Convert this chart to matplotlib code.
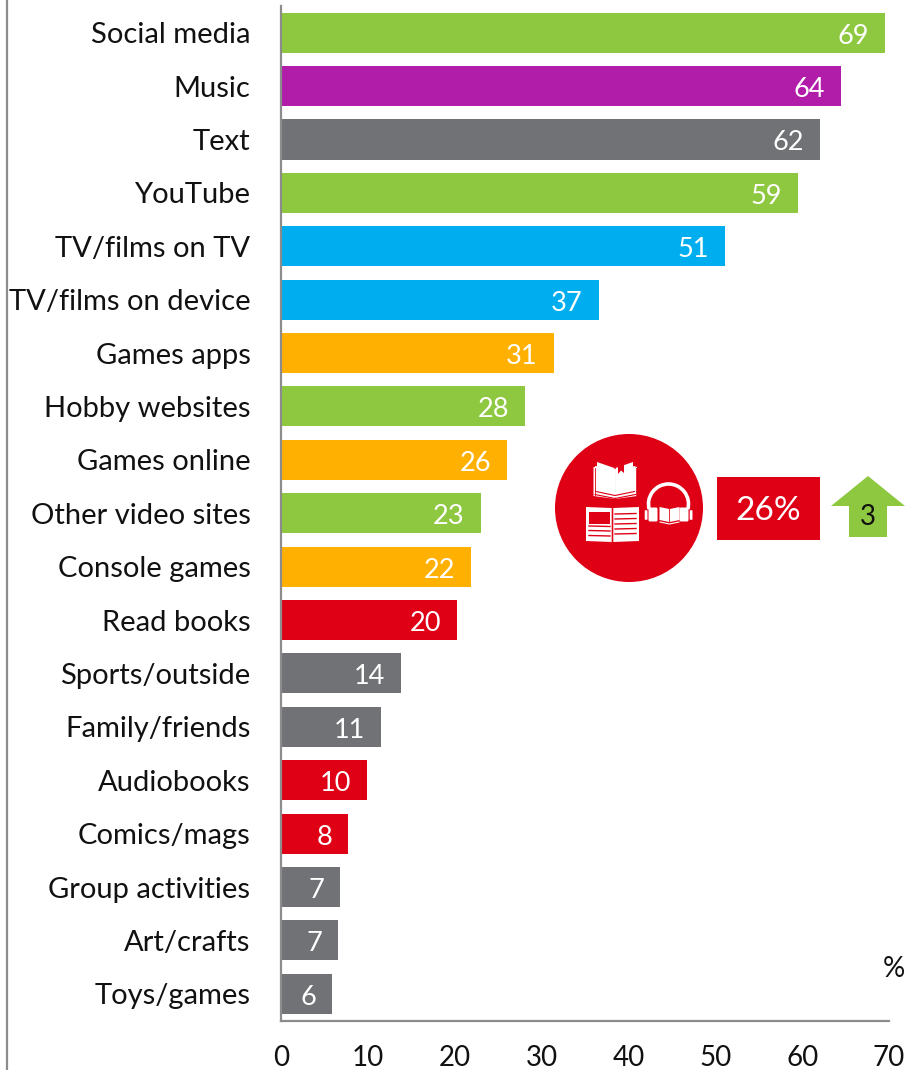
import matplotlib
matplotlib.use('Agg')
import matplotlib.pyplot as plt
from matplotlib.patches import Circle, Rectangle, Polygon, Arc, FancyBboxPatch

plt.rcParams['font.family'] = ['Lato', 'DejaVu Sans']

GREEN = '#8EC840'
PURPLE = '#B11CA8'
GREY = '#717275'
BLUE = '#00AEEF'
ORANGE = '#FFB000'
RED = '#DF0015'

categories = ['Social media', 'Music', 'Text', 'YouTube', 'TV/films on TV',
              'TV/films on device', 'Games apps', 'Hobby websites', 'Games online',
              'Other video sites', 'Console games', 'Read books', 'Sports/outside',
              'Family/friends', 'Audiobooks', 'Comics/mags', 'Group activities',
              'Art/crafts', 'Toys/games']
# bar lengths as drawn, the printed labels are rounded
values = [69.5, 64.5, 62.0, 59.5, 51.1, 36.6, 31.4, 28.1, 26.0, 23.0, 21.9, 20.3,
          13.8, 11.5, 9.9, 7.7, 6.8, 6.6, 5.9]
labels = [69, 64, 62, 59, 51, 37, 31, 28, 26, 23, 22, 20, 14, 11, 10, 8, 7, 7, 6]
colours = [GREEN, PURPLE, GREY, GREEN, BLUE, BLUE, ORANGE, GREEN, ORANGE, GREEN,
           ORANGE, RED, GREY, GREY, RED, RED, GREY, GREY, GREY]
x_ticks = [0, 10, 20, 30, 40, 50, 60, 70]

W, H = 909, 1070
fig = plt.figure(figsize=(W / 100, H / 100), dpi=100)
ax = fig.add_axes([281 / W, 1 - 1020.5 / H, 608 / W, 1014.5 / H])

y = list(range(len(categories)))
ax.barh(y, values, height=0.75, color=colours)
ax.set_xlim(0, 70)
ax.set_ylim(len(categories) - 0.5, -0.5)
ax.set_yticks(y)
ax.set_yticklabels(categories, fontsize=21, color='#111111')
ax.set_xticks(x_ticks)
ax.tick_params(axis='both', length=0)
ax.tick_params(axis='y', pad=22)
ax.tick_params(axis='x', pad=18, labelsize=20, labelcolor='#111111')
for s in ['top', 'right']:
    ax.spines[s].set_visible(False)
for s in ['left', 'bottom']:
    ax.spines[s].set_color('#8C8C8C')
    ax.spines[s].set_linewidth(1.6)

for i, v in enumerate(values):
    ax.annotate(str(labels[i]), (v, i), xytext=(-11.5, -2.5), textcoords='offset points',
                ha='right', va='center', color='white', fontsize=19.5)

# overlay in pixel coordinates for the frame line and the call-out
ov = fig.add_axes([0, 0, 1, 1], facecolor='none')
ov.set_xlim(0, W)
ov.set_ylim(H, 0)
ov.axis('off')

ov.plot([6.5, 6.5], [0, H], color='#8C8C8C', lw=1.6)
ov.text(894, 969, '%', ha='center', va='center', fontsize=20, color='#111111')

ov.add_patch(Circle((629, 508), 74, fc=RED, ec='none'))


def page_pair(x0, x1, top, dip, low, gap=1.0):
    # two slanted pages meeting at the spine
    mid = (x0 + x1) / 2
    ov.add_patch(Polygon([(x0, top), (mid - gap, top + dip), (mid - gap, low + dip), (x0, low)],
                         fc='white', ec='none'))
    ov.add_patch(Polygon([(x1, top), (mid + gap, top + dip), (mid + gap, low + dip), (x1, low)],
                         fc='white', ec='none'))


# top book: nested page edges, then the white pages and a bookmark notch
page_pair(593.5, 637, 467, 3, 496, gap=0)
page_pair(595, 635.5, 466, 3, 494, gap=0)
ov.plot([595, 615, 635.5], [494.5, 498.5, 494.5], color=RED, lw=0.8)
ov.plot([596, 615, 634.5], [491.5, 495.5, 491.5], color=RED, lw=0.8)
ov.plot([594.5, 594.5], [468, 495], color=RED, lw=0.6)
ov.plot([635.5, 635.5], [468, 495], color=RED, lw=0.6)
page_pair(597, 633, 462, 6, 488, gap=0.7)
ov.add_patch(Polygon([(618, 465), (624, 463.5), (624, 473), (621, 470.5), (618, 474)], fc=RED, ec='none'))

# lower book with picture block and text lines
page_pair(586, 639, 507, 1, 541, gap=0.8)
ov.add_patch(Rectangle((589, 512), 21, 11.5, fc=RED, ec='none'))
for ly in [526, 530.5, 535.5]:
    ov.plot([589, 610], [ly, ly + 0.5], color=RED, lw=1.0)
for ly in [513.5, 518.5, 523.5, 528.5, 533.5]:
    ov.plot([615, 636], [ly + 0.5, ly], color=RED, lw=1.0)

# headphones with a small book
ov.add_patch(Arc((668.5, 504), 40, 40, theta1=165, theta2=375, color='white', lw=2.6))
ov.add_patch(FancyBboxPatch((650, 509), 6, 11, boxstyle='round,pad=1.5', fc='white', ec='none'))
ov.add_patch(FancyBboxPatch((681, 509), 6, 11, boxstyle='round,pad=1.5', fc='white', ec='none'))
ov.add_patch(FancyBboxPatch((645.5, 511), 1.2, 8, boxstyle='round,pad=0.8', fc='white', ec='none'))
ov.add_patch(FancyBboxPatch((690.5, 511), 1.2, 8, boxstyle='round,pad=0.8', fc='white', ec='none'))
page_pair(659.5, 679.5, 507, 2, 520, gap=0.4)
ov.plot([660, 669.5, 679], [522, 524, 522], color='white', lw=0.8)

# value box and arrow
ov.add_patch(Rectangle((717, 477), 103, 63, fc=RED, ec='none'))
ov.text(768, 511, '26%', ha='center', va='center', color='white', fontsize=24)
ov.add_patch(Polygon([(868, 476), (905, 506), (887, 506), (887, 537), (849, 537),
                      (849, 506), (831, 506)], fc=GREEN, ec='none'))
ov.text(868, 517, '3', ha='center', va='center', color='#111111', fontsize=20)

fig.savefig('out.png', dpi=100)
